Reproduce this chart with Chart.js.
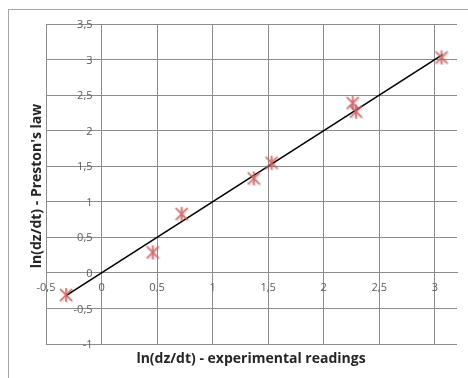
<!DOCTYPE html>
<html>
<head>
<meta charset="utf-8">
<script src="https://cdn.jsdelivr.net/npm/chart.js@4/dist/chart.umd.min.js"></script>
<style>
  body { margin: 0; background: #fff; }
  canvas { display: block; }
</style>
</head>
<body>
<canvas id="myChart" width="468" height="378"></canvas>
<script>
// Les donnees
const experimental = [-0.32, 0.46, 0.72, 1.37, 1.53, 2.26, 2.29, 3.06]
const preston = [-0.31, 0.29, 0.83, 1.33, 1.55, 2.39, 2.27, 3.03]
// La droite y = x
const lineX = [-0.32, 3.07]
const lineY = [-0.32, 3.07]
const xTitle = "ln(dz/dt) - experimental readings"
const yTitle = "ln(dz/dt) - Preston's law"

// Le marqueur en forme d'asterisque (X + trait vertical)
function makeMarker() {
    const c = document.createElement("canvas")
    c.width = 16
    c.height = 16
    const ctx = c.getContext("2d")
    ctx.strokeStyle = "rgba(214, 96, 96, 0.9)"
    ctx.lineWidth = 1.6
    ctx.shadowColor = "rgba(0,0,0,0.25)"
    ctx.shadowBlur = 2
    ctx.shadowOffsetX = 1
    ctx.shadowOffsetY = 1
    ctx.beginPath()
    ctx.moveTo(2, 2); ctx.lineTo(14, 14)
    ctx.moveTo(14, 2); ctx.lineTo(2, 14)
    ctx.moveTo(8, 1); ctx.lineTo(8, 15)
    ctx.stroke()
    return c
}

const fmt = v => String(v).replace(".", ",")

// Le cadre, les etiquettes des axes (qui se croisent en 0) et les titres
const decor = {
    id: "decor",
    beforeDraw(chart) {
        const ctx = chart.ctx
        ctx.save()
        ctx.strokeStyle = "#a6a6a6"
        ctx.lineWidth = 1
        ctx.strokeRect(8.5, 9.5, 520, 420)
        ctx.restore()
    },
    afterDraw(chart) {
        const ctx = chart.ctx
        const xs = chart.scales.x
        const ys = chart.scales.y
        const x0 = xs.getPixelForValue(0)
        const y0 = ys.getPixelForValue(0)
        ctx.save()
        ctx.fillStyle = "#595959"
        ctx.font = "11px 'Open Sans'"
        ctx.textAlign = "right"
        ctx.textBaseline = "middle"
        ys.ticks.forEach(t => ctx.fillText(fmt(t.value), x0 - 9, ys.getPixelForValue(t.value) + 1))
        ctx.textAlign = "center"
        xs.ticks.forEach(t => ctx.fillText(fmt(t.value), xs.getPixelForValue(t.value), y0 + 15))
        ctx.fillStyle = "#262626"
        ctx.font = "bold 14px 'Open Sans'"
        ctx.fillText(xTitle, 251, 359)
        ctx.translate(37, 186)
        ctx.rotate(-Math.PI / 2)
        ctx.fillText(yTitle, 0, 0)
        ctx.restore()
    }
}

new Chart(document.getElementById("myChart"), {
    type: "scatter",
    data: {
        datasets: [{
            label: "points",
            data: experimental.map((x, i) => ({ x: x, y: preston[i] })),
            pointStyle: makeMarker(),
            pointRadius: 7,
            showLine: false
        }, {
            type: "line",
            label: "y = x",
            data: lineX.map((x, i) => ({ x: x, y: lineY[i] })),
            borderColor: "#000",
            borderWidth: 1.6,
            pointRadius: 0,
            fill: false
        }]
    },
    options: {
        responsive: false,
        animation: false,
        layout: { padding: { left: 46, right: 11, top: 24, bottom: 34 } },
        plugins: {
            legend: { display: false },
            tooltip: { enabled: false }
        },
        scales: {
            x: {
                type: "linear",
                position: { y: 0 },
                min: -0.5,
                max: 3.2,
                grid: { color: "#8c8c8c", tickLength: 3 },
                border: { color: "#8c8c8c" },
                ticks: {
                    stepSize: 0.5,
                    includeBounds: false,
                    display: false
                }
            },
            y: {
                type: "linear",
                position: { x: 0 },
                min: -1,
                max: 3.5,
                grid: { color: "#8c8c8c", tickLength: 3 },
                border: { color: "#8c8c8c" },
                ticks: {
                    stepSize: 0.5,
                    display: false
                }
            }
        }
    },
    plugins: [decor]
})
</script>
</body>
</html>
